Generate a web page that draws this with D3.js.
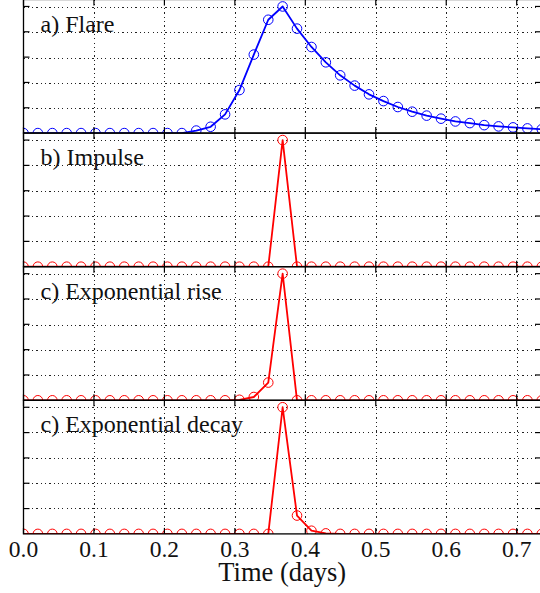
<!DOCTYPE html>
<html lang="en">
<head>
<meta charset="utf-8">
<title>Flare templates</title>
<script src="https://cdn.jsdelivr.net/npm/d3@7"></script>
<style>
  body { margin: 0; background: #fff; }
  svg { display: block; font-family: "Liberation Serif", serif; }
  .grid line { stroke: #222; stroke-width: 1; stroke-dasharray: 1.2,3.1; shape-rendering: crispEdges; }
  .spine { stroke: #000; stroke-width: 1.3; fill: none; }
  .tick-mark { stroke: #000; stroke-width: 1.2; }
  .panel-label { font-size: 24px; fill: #111; }
  .x-label { font-size: 23.5px; fill: #111; text-anchor: middle; }
  .axis-title { font-size: 26.5px; fill: #111; text-anchor: middle; }
</style>
</head>
<body>
<div id="vis"></div>
<script>

/* Data */
/* ==== */

// sample times (days), ~29.4 min cadence
var times = [0.0000, 0.0204, 0.0409, 0.0613, 0.0817, 0.1022, 0.1226, 0.1430, 0.1635,
  0.1839, 0.2043, 0.2248, 0.2452, 0.2656, 0.2861, 0.3065, 0.3269, 0.3474, 0.3678,
  0.3882, 0.4087, 0.4291, 0.4495, 0.4700, 0.4904, 0.5109, 0.5313, 0.5517, 0.5722,
  0.5926, 0.6130, 0.6335, 0.6539, 0.6743, 0.6948, 0.7152, 0.7356];

var flare = [0, 0, 0, 0, 0, 0, 0, 0, 0, 0, 0, 0, 0.02, 0.05, 0.148, 0.34, 0.62, 0.895,
  1.0, 0.825, 0.68, 0.559, 0.456, 0.375, 0.306, 0.253, 0.206, 0.169, 0.138, 0.114,
  0.092, 0.079, 0.063, 0.053, 0.045, 0.037, 0.031];

var impulse = [0, 0, 0, 0, 0, 0, 0, 0, 0, 0, 0, 0, 0, 0, 0, 0, 0, 0,
  1.0, 0, 0, 0, 0, 0, 0, 0, 0, 0, 0, 0, 0, 0, 0, 0, 0, 0, 0];

var expRise = [0, 0, 0, 0, 0, 0, 0, 0, 0, 0, 0, 0, 0, 0, 0, 0.004, 0.026, 0.14,
  1.0, 0, 0, 0, 0, 0, 0, 0, 0, 0, 0, 0, 0, 0, 0, 0, 0, 0, 0];

var expDecay = [0, 0, 0, 0, 0, 0, 0, 0, 0, 0, 0, 0, 0, 0, 0, 0, 0, 0,
  1.0, 0.145, 0.025, 0.004, 0, 0, 0, 0, 0, 0, 0, 0, 0, 0, 0, 0, 0, 0, 0];

var panelLabels = ['a) Flare', 'b) Impulse', 'c) Exponential rise', 'c) Exponential decay'];
var panelSeries = [flare, impulse, expRise, expDecay];
var panelColors = ['#0000ff', '#ff0000', '#ff0000', '#ff0000'];

var xTicks = [0.0, 0.1, 0.2, 0.3, 0.4, 0.5, 0.6, 0.7];
var yTicks = [0.2, 0.4, 0.6, 0.8, 1.0];
var xTitle = 'Time (days)';


/* Set up */
/* ====== */

var width = 540, height = 593;
var left = 23.5, right = 541;
var top0 = -0.5, panelH = 133.6;
var tickLen = 6;

var svg = d3.select('#vis').append('svg')
    .attr('width', width)
    .attr('height', height);

var xScale = d3.scaleLinear()
    .domain([0, 0.7345])
    .range([left, right]);

var yScale = d3.scaleLinear()
    .domain([0, 1.055])
    .range([panelH, 0]);

svg.append('defs').append('clipPath')
    .attr('id', 'plot-clip')
  .append('rect')
    .attr('x', left)
    .attr('y', 0)
    .attr('width', right - left)
    .attr('height', panelH);


/* Panels */
/* ====== */

panelSeries.forEach(function(series, p) {

  var g = svg.append('g')
      .attr('transform', 'translate(0,' + (top0 + p * panelH) + ')');

  // grid
  var grid = g.append('g').attr('class', 'grid');
  grid.selectAll('.vx')
    .data(xTicks.filter(function(d) { return d > 0; }))
    .enter().append('line')
      .attr('x1', function(d) { return Math.round(xScale(d)) + 0.5; })
      .attr('x2', function(d) { return Math.round(xScale(d)) + 0.5; })
      .attr('y1', 0)
      .attr('y2', panelH);
  grid.selectAll('.hy')
    .data(yTicks)
    .enter().append('line')
      .attr('x1', left)
      .attr('x2', right)
      .attr('y1', function(d) { return Math.round(yScale(d)) + 0.5; })
      .attr('y2', function(d) { return Math.round(yScale(d)) + 0.5; });

  var pts = times.map(function(t, i) { return { t: t, v: series[i] }; });
  var plot = g.append('g').attr('clip-path', 'url(#plot-clip)');

  var line = d3.line()
      .x(function(d) { return xScale(d.t); })
      .y(function(d) { return yScale(d.v); });

  plot.append('path')
      .datum(pts)
      .attr('d', line)
      .attr('fill', 'none')
      .attr('stroke', panelColors[p])
      .attr('stroke-width', 1.8)
      .attr('stroke-linejoin', 'round');

  plot.selectAll('circle')
    .data(pts)
    .enter().append('circle')
      .attr('cx', function(d) { return xScale(d.t); })
      .attr('cy', function(d) { return yScale(d.v); })
      .attr('r', 4.8)
      .attr('fill', 'none')
      .attr('stroke', panelColors[p])
      .attr('stroke-width', 1);

  // tick marks (inward)
  xTicks.forEach(function(d) {
    var x = xScale(d);
    g.append('line').attr('class', 'tick-mark')
      .attr('x1', x).attr('x2', x).attr('y1', panelH).attr('y2', panelH - tickLen);
    g.append('line').attr('class', 'tick-mark')
      .attr('x1', x).attr('x2', x).attr('y1', 0).attr('y2', tickLen);
  });
  yTicks.forEach(function(d) {
    var y = yScale(d);
    g.append('line').attr('class', 'tick-mark')
      .attr('x1', left).attr('x2', left + tickLen).attr('y1', y).attr('y2', y);
    g.append('line').attr('class', 'tick-mark')
      .attr('x1', right).attr('x2', right - tickLen).attr('y1', y).attr('y2', y);
  });

  // spines
  g.append('rect').attr('class', 'spine')
      .attr('x', left)
      .attr('y', 0)
      .attr('width', right - left)
      .attr('height', panelH);

  g.append('text')
      .attr('class', 'panel-label')
      .attr('x', 40.5)
      .attr('y', 32)
      .text(panelLabels[p]);

});


/* X axis labels */
/* ============= */

var bottom = top0 + 4 * panelH;

svg.selectAll('.x-label')
  .data(xTicks)
  .enter().append('text')
    .attr('class', 'x-label')
    .attr('x', function(d) { return xScale(d); })
    .attr('y', bottom + 23.4)
    .text(function(d) { return d3.format('.1f')(d); });

svg.append('text')
    .attr('class', 'axis-title')
    .attr('x', (left + right) / 2)
    .attr('y', bottom + 47.2)
    .text(xTitle);

</script>
</body>
</html>
